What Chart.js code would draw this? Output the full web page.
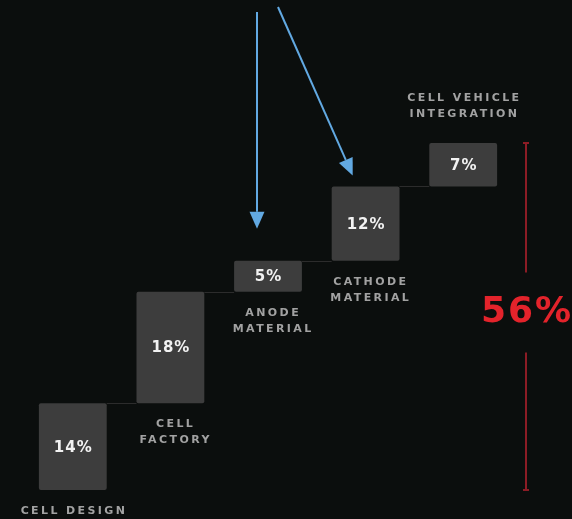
<!DOCTYPE html>
<html>
<head>
<meta charset="utf-8">
<script src="https://cdn.jsdelivr.net/npm/chart.js@4"></script>
<style>
  html, body { margin: 0; padding: 0; background: #0b0e0d; }
  #wrap { width: 572px; height: 519px; }
</style>
</head>
<body>
<div id="wrap"><canvas id="costchart"></canvas></div>
<script>
// steps of the cost reduction, in order
const steps = [['CELL DESIGN'], ['CELL', 'FACTORY'], ['ANODE', 'MATERIAL'], ['CATHODE', 'MATERIAL'], ['CELL VEHICLE', 'INTEGRATION']];
const savings = [14, 18, 5, 12, 7];

// each step floats on top of the ones before it
var floating = [];
var running = 0;
savings.forEach(v => {
    floating.push([running, running + v]);
    running += v;
});
const total = running;

const BAR_GREY = '#3d3d3d';
const LABEL_GREY = '#a2a2a2';
const RED = '#e3232b';
const BLUE = '#62a9e2';

function spaced(ctx, text, x, y, spacing) {
    ctx.letterSpacing = spacing + 'px';
    // letterSpacing adds trailing space, nudge to keep it centred
    ctx.fillText(text, x + spacing / 2, y);
}

function arrow(ctx, x1, y1, x2, y2) {
    var ang = Math.atan2(y2 - y1, x2 - x1);
    var head = 17, half = 7.5;
    var bx = x2 - Math.cos(ang) * head, by = y2 - Math.sin(ang) * head;
    ctx.strokeStyle = BLUE;
    ctx.fillStyle = BLUE;
    ctx.lineWidth = 2;
    ctx.beginPath();
    ctx.moveTo(x1, y1);
    ctx.lineTo(bx, by);
    ctx.stroke();
    ctx.beginPath();
    ctx.moveTo(x2, y2);
    ctx.lineTo(bx + Math.sin(ang) * half, by - Math.cos(ang) * half);
    ctx.lineTo(bx - Math.sin(ang) * half, by + Math.cos(ang) * half);
    ctx.closePath();
    ctx.fill();
}

const stepDecor = {
    id: 'stepDecor',
    beforeDatasetsDraw(chart) {
        // thin connectors from the top of one step to the next one
        const ctx = chart.ctx;
        const bars = chart.getDatasetMeta(0).data;
        ctx.save();
        ctx.strokeStyle = '#2c2c2c';
        ctx.lineWidth = 1;
        for (let i = 0; i < bars.length - 1; i++) {
            const b = bars[i], n = bars[i + 1];
            ctx.beginPath();
            ctx.moveTo(b.x + b.width / 2, Math.round(b.y) + 0.5);
            ctx.lineTo(n.x - n.width / 2, Math.round(b.y) + 0.5);
            ctx.stroke();
        }
        ctx.restore();
    },
    afterDatasetsDraw(chart) {
        const ctx = chart.ctx;
        const bars = chart.getDatasetMeta(0).data;
        const y = chart.scales.y;
        ctx.save();
        ctx.textAlign = 'center';
        ctx.textBaseline = 'middle';

        // percentages inside the boxes
        ctx.fillStyle = '#f2f2f2';
        ctx.font = 'bold 15px "DejaVu Sans"';
        bars.forEach((b, i) => {
            spaced(ctx, savings[i] + '%', b.x, (b.y + b.base) / 2 + 1, 1);
        });

        // step names
        ctx.fillStyle = LABEL_GREY;
        ctx.font = 'bold 11px "DejaVu Sans"';
        bars.forEach((b, i) => {
            const lines = steps[i];
            const last = i == bars.length - 1;
            lines.forEach((line, j) => {
                var ly;
                if (last) {
                    ly = b.y - 29 - (lines.length - 1 - j) * 16;
                } else {
                    ly = b.base + 21 + j * 16;
                }
                spaced(ctx, line, b.x + (last || i == 0 ? 0 : 4), ly, 2.4);
            });
        });

        // red bracket with the total
        const bx = chart.chartArea.right + 14;
        const top = y.getPixelForValue(total);
        const bottom = y.getPixelForValue(0);
        const mid = (top + bottom) / 2 - 4;
        ctx.strokeStyle = '#8c1c25';
        ctx.lineWidth = 2;
        ctx.beginPath();
        ctx.moveTo(bx, top);
        ctx.lineTo(bx, mid - 40);
        ctx.moveTo(bx, mid + 40);
        ctx.lineTo(bx, bottom);
        ctx.moveTo(bx - 3, top);
        ctx.lineTo(bx + 3, top);
        ctx.moveTo(bx - 3, bottom);
        ctx.lineTo(bx + 3, bottom);
        ctx.stroke();
        ctx.fillStyle = RED;
        ctx.font = 'bold 36px "DejaVu Sans"';
        spaced(ctx, total + '%', bx, mid, 2);

        // pointers to the two material steps
        const anode = bars[2], cathode = bars[3];
        arrow(ctx, anode.x - 11, 12, anode.x - 11, anode.y - 32);
        arrow(ctx, anode.x + 10, 7, cathode.x - cathode.width / 2 + 21, cathode.y - 11);
        ctx.restore();
    }
};

const data = {
    labels: steps,
    datasets: [
        {
            label: 'Saving',
            data: floating,
            backgroundColor: BAR_GREY,
            borderRadius: 2,
            borderSkipped: false,
            barPercentage: 0.695,
            categoryPercentage: 1
        }
    ]
};

const config = {
    type: 'bar',
    data: data,
    options: {
        responsive: true,
        maintainAspectRatio: false,
        animation: false,
        layout: {
            padding: { left: 24, right: 60, top: 0, bottom: 0 }
        },
        plugins: {
            legend: { display: false },
            tooltip: { enabled: false }
        },
        scales: {
            x: { display: false },
            y: { display: false, min: -4.68, max: 79.1 }
        }
    },
    plugins: [stepDecor]
};

const ctx = document.getElementById('costchart').getContext('2d');
const chart = new Chart(ctx, config);
</script>
</body>
</html>
